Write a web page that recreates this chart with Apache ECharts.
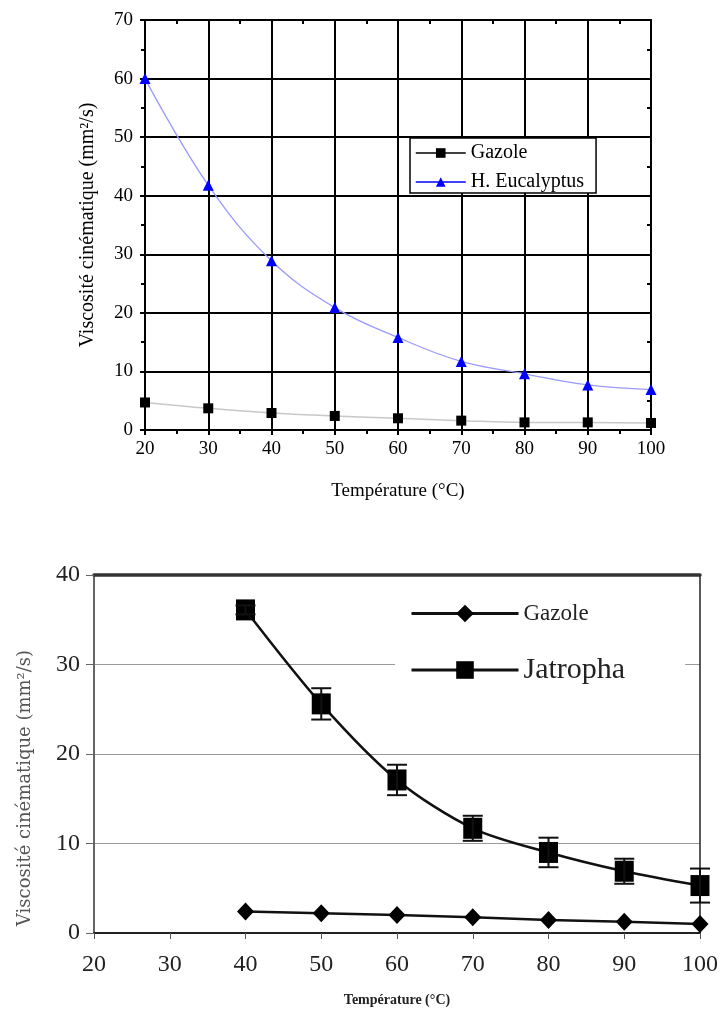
<!DOCTYPE html>
<html>
<head>
<meta charset="utf-8">
<script src="https://cdn.jsdelivr.net/npm/echarts@6/dist/echarts.min.js"></script>
<style>
html,body{margin:0;padding:0;background:#fff;}
#chart{width:728px;height:1011px;}
</style>
</head>
<body>
<div id="chart"></div>
<script>
// ---- Data (top chart) ----
const tempTop = [20, 30, 40, 50, 60, 70, 80, 90, 100];
const gazoleTop = [4.7, 3.7, 2.9, 2.4, 2.0, 1.6, 1.3, 1.3, 1.2];
const eucalyptusTop = [60, 41.8, 28.9, 20.9, 15.8, 11.7, 9.6, 7.7, 6.9];
// ---- Data (bottom chart) ----
const tempBottom = [40, 50, 60, 70, 80, 90, 100];
const gazoleBottom = [2.4, 2.2, 2.0, 1.75, 1.45, 1.26, 1.0];
const jatropha = [36.1, 25.6, 17.1, 11.7, 9.0, 6.9, 5.3];
const jatrophaErr = [0.5, 1.75, 1.7, 1.4, 1.65, 1.4, 1.9];

const yNameText = 'Viscosité cinématique (mm²/s)';
const xNameText = 'Température (°C)';
const SERIF = '"Liberation Serif", "Times New Roman", serif';

const chart = echarts.init(document.getElementById('chart'), null, {renderer: 'canvas'});

const pair = (xs, ys) => xs.map((x, i) => [x, ys[i]]);
const errData = tempBottom.map((t, i) => [t, jatropha[i] - jatrophaErr[i], jatropha[i] + jatrophaErr[i]]);

const option = {
  backgroundColor: '#fff',
  animation: false,
  grid: [
    {left: 145, right: 77, top: 20, height: 410},
    {left: 94, right: 28, top: 575, height: 358}
  ],
  xAxis: [
    { // top chart bottom axis
      gridIndex: 0, type: 'value', min: 20, max: 100, interval: 10, position: 'bottom',
      name: xNameText, nameLocation: 'middle', nameGap: 52,
      nameTextStyle: {fontFamily: SERIF, fontSize: 19, color: '#000'},
      axisLine: {show: true, onZero: false, lineStyle: {color: '#000', width: 2}},
      axisTick: {show: true, length: 5, lineStyle: {color: '#000', width: 2}},
      minorTick: {show: true, splitNumber: 2, length: 4, lineStyle: {color: '#000', width: 2}},
      axisLabel: {fontFamily: SERIF, fontSize: 19, color: '#000', margin: 10},
      splitLine: {show: true, lineStyle: {color: '#000', width: 2}}
    },
    { // top chart top border
      gridIndex: 0, type: 'value', min: 20, max: 100, interval: 10, position: 'top',
      axisLine: {show: true, onZero: false, lineStyle: {color: '#000', width: 2}},
      axisTick: {show: true, inside: true, length: 5, lineStyle: {color: '#000', width: 2}},
      minorTick: {show: true, splitNumber: 2, length: 4, lineStyle: {color: '#000', width: 2}},
      axisLabel: {show: false}, splitLine: {show: false}
    },
    { // bottom chart x axis
      gridIndex: 1, type: 'value', min: 20, max: 100, interval: 10, position: 'bottom',
      name: xNameText, nameLocation: 'middle', nameGap: 60,
      nameTextStyle: {fontFamily: SERIF, fontSize: 14, color: '#222', fontWeight: 'bold'},
      axisLine: {show: true, onZero: false, lineStyle: {color: '#222', width: 2}},
      axisTick: {show: true, length: 6, lineStyle: {color: '#555', width: 1}},
      axisLabel: {fontFamily: SERIF, fontSize: 24, color: '#222', margin: 20},
      splitLine: {show: false}
    },
    { // bottom chart top border
      gridIndex: 1, type: 'value', min: 20, max: 100, interval: 10, position: 'top',
      axisLine: {show: true, onZero: false, lineStyle: {color: '#333', width: 3.5}},
      axisTick: {show: false}, axisLabel: {show: false}, splitLine: {show: false}
    }
  ],
  yAxis: [
    { // top chart left axis
      gridIndex: 0, type: 'value', min: 0, max: 70, interval: 10, position: 'left',
      name: yNameText, nameLocation: 'middle', nameGap: 47, nameRotate: 90,
      nameTextStyle: {fontFamily: SERIF, fontSize: 20, color: '#000'},
      axisLine: {show: true, onZero: false, lineStyle: {color: '#000', width: 2}},
      axisTick: {show: true, length: 5, lineStyle: {color: '#000', width: 2}},
      minorTick: {show: true, splitNumber: 2, length: 4, lineStyle: {color: '#000', width: 2}},
      axisLabel: {fontFamily: SERIF, fontSize: 19, color: '#000', margin: 12},
      splitLine: {show: true, lineStyle: {color: '#000', width: 2}}
    },
    { // top chart right border
      gridIndex: 0, type: 'value', min: 0, max: 70, interval: 10, position: 'right',
      axisLine: {show: true, onZero: false, lineStyle: {color: '#000', width: 2}},
      axisTick: {show: true, inside: true, length: 5, lineStyle: {color: '#000', width: 2}},
      minorTick: {show: true, splitNumber: 2, length: 4, lineStyle: {color: '#000', width: 2}},
      axisLabel: {show: false}, splitLine: {show: false}
    },
    { // bottom chart left axis
      gridIndex: 1, type: 'value', min: 0, max: 40, interval: 10, position: 'left',
      axisLine: {show: true, onZero: false, lineStyle: {color: '#666', width: 2}},
      axisTick: {show: true, length: 8, lineStyle: {color: '#666', width: 1}},
      axisLabel: {fontFamily: SERIF, fontSize: 24, color: '#222', margin: 14},
      splitLine: {show: true, lineStyle: {color: '#999', width: 1.2}}
    },
    { // bottom chart right border
      gridIndex: 1, type: 'value', min: 0, max: 40, interval: 10, position: 'right',
      axisLine: {show: true, onZero: false, lineStyle: {color: '#222', width: 1.5}},
      axisTick: {show: false}, axisLabel: {show: false}, splitLine: {show: false}
    }
  ],
  legend: [
    {
      orient: 'vertical', left: 410, top: 138,
      padding: [5, 12, 1, 5], itemGap: 9, itemWidth: 50, itemHeight: 12, itemTextGap: 4,
      backgroundColor: '#fff', borderColor: '#000', borderWidth: 1.5, borderRadius: 0,
      textStyle: {fontFamily: SERIF, fontSize: 20, color: '#000'},
      data: [
        {name: 'Gazole', lineStyle: {color: '#000', width: 1.5}},
        {name: 'H. Eucalyptus', lineStyle: {color: '#0000ff', width: 1.5}}
      ]
    },
    {
      orient: 'vertical', left: 395, top: 590,
      padding: [12, 60, 14, 15], itemGap: 30, itemWidth: 107, itemHeight: 22, itemTextGap: 6,
      backgroundColor: '#fff', borderWidth: 0,
      textStyle: {fontFamily: SERIF, fontSize: 23, color: '#222'},
      formatter: n => n.trim(),
      data: [
        {name: 'Gazole ', lineStyle: {color: '#111', width: 3}},
        {name: 'Jatropha', lineStyle: {color: '#111', width: 3}, textStyle: {fontSize: 30}}
      ]
    }
  ],
  graphic: [
    {
      type: 'text', x: 25, y: 788, rotation: Math.PI / 2,
      style: {text: yNameText, textAlign: 'center', textVerticalAlign: 'middle',
              font: '18px "DejaVu Serif", serif', fill: '#555'}
    }
  ],
  series: [
    {
      name: 'Gazole', type: 'line', xAxisIndex: 0, yAxisIndex: 0,
      data: pair(tempTop, gazoleTop), smooth: 0.4,
      symbol: 'rect', symbolSize: 10, z: 3,
      itemStyle: {color: '#000'},
      lineStyle: {color: '#c8c8c8', width: 1.5}
    },
    {
      name: 'H. Eucalyptus', type: 'line', xAxisIndex: 0, yAxisIndex: 0,
      data: pair(tempTop, eucalyptusTop), smooth: 0.4,
      symbol: 'triangle', symbolSize: 11, z: 3,
      itemStyle: {color: '#0000ff'},
      lineStyle: {color: '#9a9aff', width: 1.3}
    },
    {
      name: 'Gazole ', type: 'line', xAxisIndex: 2, yAxisIndex: 2,
      data: pair(tempBottom, gazoleBottom),
      symbol: 'diamond', symbolSize: [17, 18], z: 3,
      itemStyle: {color: '#000'},
      lineStyle: {color: '#111', width: 2.5}
    },
    {
      name: 'Jatropha', type: 'line', xAxisIndex: 2, yAxisIndex: 2,
      data: pair(tempBottom, jatropha), smooth: 0.3,
      symbol: 'rect', symbolSize: [19, 21], z: 3,
      itemStyle: {color: '#000'},
      lineStyle: {color: '#111', width: 2.5}
    },
    {
      name: 'Jatropha error', type: 'custom', xAxisIndex: 2, yAxisIndex: 2,
      data: errData, z: 4,
      renderItem: function (params, api) {
        const x = api.value(0);
        const lo = api.coord([x, api.value(1)]);
        const hi = api.coord([x, api.value(2)]);
        const hw = 10;
        const st = {stroke: '#111', lineWidth: 2};
        return {
          type: 'group',
          children: [
            {type: 'line', shape: {x1: lo[0], y1: lo[1], x2: hi[0], y2: hi[1]}, style: st},
            {type: 'line', shape: {x1: lo[0] - hw, y1: lo[1], x2: lo[0] + hw, y2: lo[1]}, style: st},
            {type: 'line', shape: {x1: hi[0] - hw, y1: hi[1], x2: hi[0] + hw, y2: hi[1]}, style: st}
          ]
        };
      }
    }
  ]
};
chart.setOption(option);
</script>
</body>
</html>
